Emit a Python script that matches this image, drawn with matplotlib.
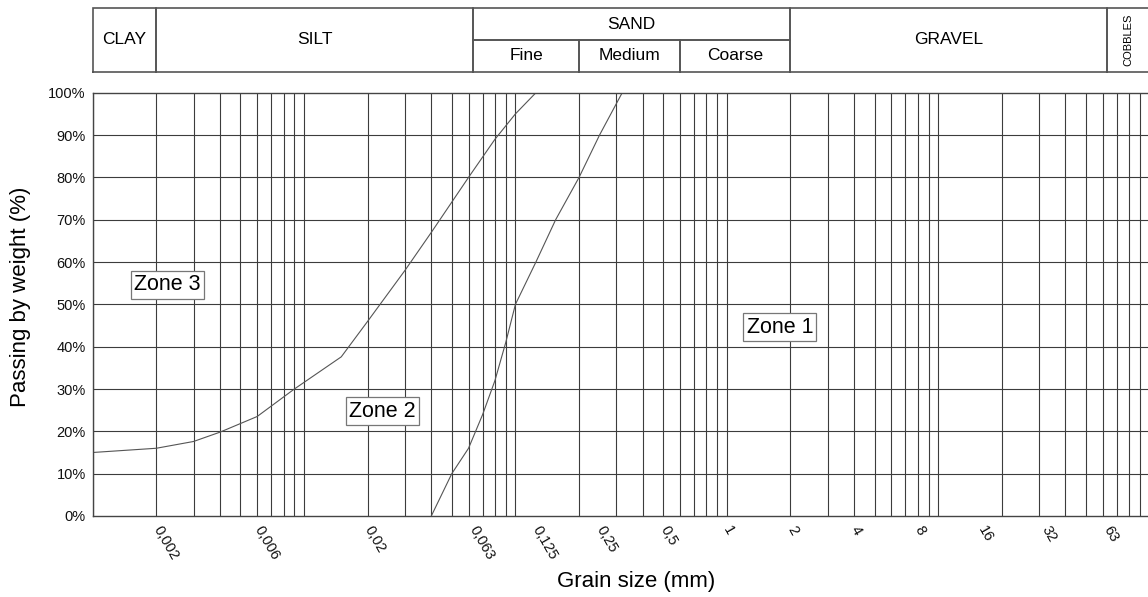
import matplotlib
matplotlib.use("Agg")
import matplotlib.pyplot as plt

plt.rcParams["font.family"] = ["Liberation Sans", "DejaVu Sans"]

# boundary between zone 2 and zone 3
z23_size = [0.001, 0.002, 0.003, 0.004, 0.006, 0.009, 0.015, 0.02, 0.03, 0.04, 0.06, 0.08, 0.1, 0.125]
z23_pass = [15, 16, 17.6, 19.8, 23.5, 30, 37.6, 46, 58, 67, 80, 89, 95, 100]

# boundary between zone 1 and zone 2
z12_size = [0.04, 0.05, 0.06, 0.07, 0.08, 0.09, 0.1, 0.125, 0.155, 0.2, 0.25, 0.32]
z12_pass = [0, 10, 16, 24, 32, 41, 50, 60, 70, 80, 90, 100]

tick_values = [0.002, 0.006, 0.02, 0.063, 0.125, 0.25, 0.5, 1, 2, 4, 8, 16, 32, 63]
tick_labels = ["0,002", "0,006", "0,02", "0,063", "0,125", "0,25", "0,5", "1", "2", "4", "8", "16", "32", "63"]

zone_names = ["Zone 3", "Zone 2", "Zone 1"]
zone_size = [0.00225, 0.0234, 1.78]
zone_pass = [54.6, 24.8, 44.6]

# header classes: (label, left, right, row) row: 0 full height, 1 top half, -1 bottom half
soil_classes = [
    ("CLAY", 0.001, 0.002, 0),
    ("SILT", 0.002, 0.063, 0),
    ("SAND", 0.063, 2, 1),
    ("Fine", 0.063, 0.2, -1),
    ("Medium", 0.2, 0.6, -1),
    ("Coarse", 0.6, 2, -1),
    ("GRAVEL", 2, 63, 0),
    ("COBBLES", 63, 100, 0),
]

XMIN, XMAX = 0.001, 100
grid_col = "#3c3c3c"

fig = plt.figure(figsize=(11.48, 5.97), dpi=100)
ax = fig.add_axes([0.0807, 0.1357, 0.9207, 0.7090])
ax.set_xscale("log")
ax.set_xlim(XMIN, XMAX)
ax.set_ylim(0, 100)

# log grid lines 1..9 per decade
for dec in [0.001, 0.01, 0.1, 1, 10]:
    for m in range(1, 10):
        ax.axvline(dec * m, color=grid_col, lw=0.8, zorder=1)
for p in range(10, 100, 10):
    ax.axhline(p, color=grid_col, lw=0.8, zorder=1)

ax.plot(z23_size, z23_pass, color="#555555", lw=0.8, zorder=2)
ax.plot(z12_size, z12_pass, color="#555555", lw=0.8, zorder=2)

for name, x, y in zip(zone_names, zone_size, zone_pass):
    ax.text(x, y, name, fontsize=15.5, ha="center", va="center", zorder=3,
            bbox=dict(boxstyle="square,pad=0.15", fc="white", ec="#777777", lw=0.9))

ax.set_xticks(tick_values)
ax.set_xticklabels(tick_labels)
ax.xaxis.set_minor_locator(matplotlib.ticker.NullLocator())
ax.set_yticks(range(0, 101, 10))
ax.set_yticklabels([f"{p}%" for p in range(0, 101, 10)])
ax.tick_params(axis="both", length=0, labelsize=10.5, colors="#111111")
ax.tick_params(axis="y", pad=5)
ax.tick_params(axis="x", pad=8)
for lab in ax.get_xticklabels():
    lab.set_rotation(-60)
    lab.set_ha("left")
    lab.set_va("center")
    lab.set_rotation_mode("anchor")
for s in ax.spines.values():
    s.set_color("#444444")
    s.set_linewidth(1.0)

fig.text(21 / 1148, 1 - 297 / 597, "Passing by weight (%)", rotation=90,
         fontsize=16, ha="center", va="center")
fig.text(636 / 1148, 1 - 582 / 597, "Grain size (mm)", fontsize=16,
         ha="center", va="center")

# header band
hx = fig.add_axes([0.0807, 0.8799, 0.9207, 0.1062])
hx.set_xscale("log")
hx.set_xlim(XMIN, XMAX)
hx.set_ylim(0, 2)
hx.axis("off")
edge = "#555555"
for name, lo, hi, row in soil_classes:
    y0, y1 = (0, 2) if row == 0 else ((1, 2) if row == 1 else (0, 1))
    hx.plot([lo, hi, hi, lo, lo], [y0, y0, y1, y1, y0], color=edge, lw=1.2,
            solid_joinstyle="miter", clip_on=False)
    xc = (lo * hi) ** 0.5
    if name == "COBBLES":
        hx.text(xc, 1, name, rotation=90, fontsize=8, ha="center", va="center")
    else:
        hx.text(xc, (y0 + y1) / 2, name, fontsize=12.5, ha="center", va="center")

fig.savefig("out.png", dpi=100)
